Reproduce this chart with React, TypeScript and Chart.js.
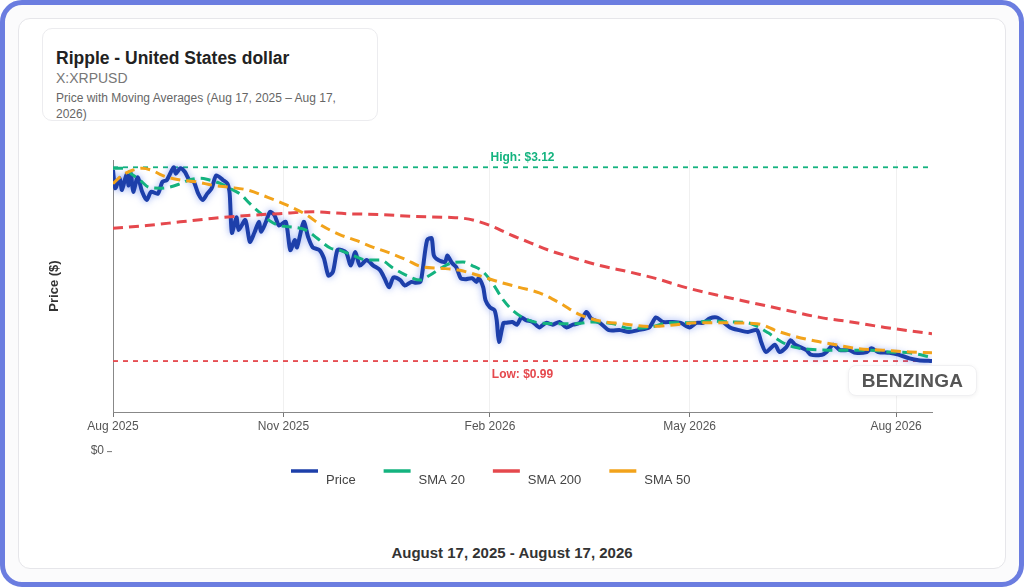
import { useEffect, useRef } from 'react';
import { Chart, registerables } from 'chart.js';

Chart.register(...registerables);

const FONT = '"Liberation Sans", Arial, Helvetica, sans-serif';

// x values are days since Aug 17, 2025
const tickDays = [0, 76, 168, 257, 349];
const tickLabels = ['Aug 2025', 'Nov 2025', 'Feb 2026', 'May 2026', 'Aug 2026'];

const priceDays = [
  0, 1, 3, 4, 6, 7, 8, 9, 11, 13,
  15, 17, 20, 22, 24, 27, 28, 30, 32, 34,
  36, 38, 40, 42, 44, 46, 49, 51, 52, 53,
  55, 56, 59, 61, 63, 65, 66, 68, 70, 72,
  74, 77, 79, 81, 82, 85, 87, 89, 92, 94,
  96, 98, 100, 102, 104, 106, 108, 110, 113, 116,
  119, 121, 123, 125, 128, 130, 133, 135, 137, 138,
  140, 142, 143, 145, 148, 149, 151, 153, 155, 157,
  160, 162, 163, 165, 166, 168, 170, 171, 172, 174,
  175, 178, 180, 182, 184, 187, 190, 193, 196, 199,
  202, 205, 208, 211, 213, 217, 221, 226, 230, 234,
  239, 242, 245, 249, 253, 257, 260, 263, 266, 269,
  271, 275, 279, 283, 287, 289, 291, 295, 297, 300,
  302, 304, 309, 311, 316, 318, 321, 324, 328, 331,
  336, 338, 341, 346, 350, 355, 359, 365,
];
const priceValues = [
  3.09, 2.89, 3.0, 2.87, 3.04, 2.92, 3.05, 2.85, 3.01, 2.85,
  2.76, 2.85, 2.83, 2.96, 2.98, 3.12, 3.05, 3.11, 3.07, 2.98,
  2.96, 2.83, 2.76, 2.83, 2.89, 3.03, 2.98, 2.94, 2.83, 2.4,
  2.57, 2.43, 2.54, 2.3, 2.4, 2.52, 2.41, 2.51, 2.63, 2.59,
  2.48, 2.52, 2.21, 2.32, 2.24, 2.52, 2.35, 2.24, 2.21, 2.12,
  1.93, 1.97, 2.21, 2.21, 2.18, 2.04, 2.19, 2.04, 2.1, 2.04,
  1.99, 1.9, 1.8, 1.91, 1.88, 1.82, 1.86, 1.85, 1.86, 1.99,
  2.32, 2.34, 2.15, 2.1, 2.08, 2.15, 2.07, 2.02, 1.9, 1.89,
  1.9, 1.86, 1.9, 1.8, 1.66, 1.58, 1.55, 1.44, 1.2, 1.41,
  1.41, 1.42, 1.39, 1.47, 1.44, 1.42, 1.36, 1.41, 1.39, 1.42,
  1.36, 1.39, 1.41, 1.53, 1.46, 1.41, 1.33, 1.33, 1.31, 1.33,
  1.36, 1.47, 1.42, 1.42, 1.41, 1.36, 1.41, 1.41, 1.46, 1.47,
  1.44, 1.36, 1.33, 1.31, 1.33, 1.19, 1.09, 1.17, 1.09, 1.14,
  1.22, 1.17, 1.11, 1.06, 1.06, 1.09, 1.17, 1.11, 1.11, 1.08,
  1.09, 1.13, 1.09, 1.08, 1.06, 1.02, 1.0, 0.99,
];

const sma20Days = [
  0, 5, 8, 12, 16, 21, 25, 30, 34, 39, 43, 48, 52, 57, 61, 65, 70, 74, 81, 86,
  91, 97, 101, 107, 113, 119, 125, 131, 137, 141, 146, 151, 156, 160, 165, 169, 174, 178, 184, 190,
  198, 206, 214, 223, 230, 239, 248, 257, 266, 275, 283, 288, 292, 298, 304, 310, 319, 328, 337, 346,
  355, 365,
];
const sma20Values = [
  3.11, 3.11, 3.05, 2.98, 2.9, 2.89, 2.9, 2.94, 2.98, 3.0, 2.98, 2.94, 2.89, 2.82, 2.72, 2.63, 2.53, 2.48, 2.46, 2.43,
  2.34, 2.23, 2.21, 2.15, 2.1, 2.1, 2.01, 1.93, 1.88, 1.93, 2.01, 2.07, 2.08, 2.04, 1.97, 1.85, 1.66, 1.55, 1.45, 1.41,
  1.4, 1.4, 1.42, 1.4, 1.35, 1.36, 1.41, 1.41, 1.43, 1.42, 1.41, 1.36, 1.3, 1.2, 1.14, 1.12, 1.11, 1.11, 1.11, 1.09,
  1.08, 1.03,
];

const sma200Days = [
  0, 15, 30, 45, 60, 74, 89, 104, 119, 134, 149, 156, 162, 168, 177, 186, 194, 203, 217, 230,
  243, 255, 270, 285, 300, 315, 329, 344, 365,
];
const sma200Values = [
  2.45, 2.48, 2.52, 2.56, 2.59, 2.61, 2.63, 2.61, 2.6, 2.58, 2.57, 2.56, 2.53, 2.48, 2.38, 2.29, 2.21, 2.14, 2.04, 1.97,
  1.89, 1.8, 1.71, 1.63, 1.55, 1.47, 1.42, 1.36, 1.29,
];

const sma50Days = [
  0, 4, 9, 13, 18, 22, 30, 37, 45, 52, 60, 69, 77, 86, 93, 101, 109, 116, 122, 131,
  137, 146, 154, 163, 172, 181, 190, 199, 208, 217, 227, 239, 251, 260, 270, 287, 296, 304, 313, 322,
  331, 343, 355, 365,
];
const sma50Values = [
  2.94, 3.03, 3.09, 3.11, 3.08, 3.03, 2.98, 2.96, 2.92, 2.9, 2.87, 2.79, 2.71, 2.6, 2.48, 2.38, 2.31, 2.24, 2.19, 2.1,
  2.03, 2.01, 1.99, 1.93, 1.86, 1.8, 1.74, 1.63, 1.5, 1.43, 1.4, 1.37, 1.39, 1.41, 1.41, 1.4, 1.32, 1.26, 1.21, 1.17,
  1.13, 1.11, 1.09, 1.08,
];

const HIGH = 3.12;
const LOW = 0.99;

const BLUE = '#1d3faa';
const GREEN = '#14b37f';
const RED = '#e5484d';
const ORANGE = '#f2a31b';

const toPoints = (days: number[], values: number[]) => days.map((d, i) => ({ x: d, y: values[i] }));

const overlay = {
  id: 'overlay',
  beforeDatasetsDraw(chart: any) {
    const { ctx, chartArea: a, scales } = chart;
    ctx.save();
    ctx.lineWidth = 1.8;
    ctx.setLineDash([5, 5]);
    [[HIGH, GREEN], [LOW, RED]].forEach(([v, c]) => {
      const py = scales.y.getPixelForValue(v as number);
      ctx.strokeStyle = c;
      ctx.beginPath();
      ctx.moveTo(a.left, py);
      ctx.lineTo(a.right, py);
      ctx.stroke();
    });
    ctx.restore();
  },
  beforeDatasetDraw(chart: any, args: any) {
    if (args.index !== 0) return;
    const ctx = chart.ctx;
    ctx.save();
    ctx.shadowColor = 'rgba(60,100,235,0.55)';
    ctx.shadowBlur = 7;
  },
  afterDatasetDraw(chart: any, args: any) {
    if (args.index === 0) chart.ctx.restore();
  },
  afterDraw(chart: any) {
    const { ctx, chartArea: a, scales } = chart;
    const mid = (a.left + a.right) / 2;
    ctx.save();
    ctx.font = `bold 12px ${FONT}`;
    ctx.textAlign = 'center';
    ctx.textBaseline = 'middle';
    ctx.fillStyle = GREEN;
    ctx.fillText(`High: $${HIGH.toFixed(2)}`, mid, scales.y.getPixelForValue(HIGH) - 10);
    ctx.fillStyle = RED;
    ctx.fillText(`Low: $${LOW.toFixed(2)}`, mid, scales.y.getPixelForValue(LOW) + 14);

    // stray zero tick of the price axis, below the date axis
    const zy = scales.y.getPixelForValue(0);
    ctx.font = `12px ${FONT}`;
    ctx.fillStyle = '#555';
    ctx.textAlign = 'right';
    ctx.fillText('$0', a.left - 9, zy);
    ctx.strokeStyle = '#777';
    ctx.lineWidth = 1;
    ctx.beginPath();
    ctx.moveTo(a.left - 6, zy + 0.5);
    ctx.lineTo(a.left - 1, zy + 0.5);
    ctx.stroke();

    // legend: swatch line with the label set a little lower
    let x = 267;
    ctx.font = `13px ${FONT}`;
    ctx.textAlign = 'left';
    ctx.fillStyle = '#444';
    chart.data.datasets.forEach((ds: any) => {
      ctx.strokeStyle = ds.borderColor;
      ctx.lineWidth = 3.5;
      ctx.beginPath();
      ctx.moveTo(x, 331);
      ctx.lineTo(x + 27, 331);
      ctx.stroke();
      ctx.fillText(ds.label, x + 35, 340);
      x += 35 + ctx.measureText(ds.label).width + 28;
    });
    ctx.restore();
  },
};

function PriceChart() {
  const canvasRef = useRef<HTMLCanvasElement>(null);
  const chartRef = useRef<Chart | null>(null);

  useEffect(() => {
    if (!canvasRef.current) return;
    if (chartRef.current) chartRef.current.destroy();
    Chart.defaults.font.family = FONT;

    const sma = { pointRadius: 0, borderWidth: 3, borderDash: [10, 6], cubicInterpolationMode: 'monotone' as const };

    chartRef.current = new Chart(canvasRef.current, {
      type: 'line',
      data: {
        datasets: [
          { label: 'Price', data: toPoints(priceDays, priceValues), borderColor: BLUE, borderWidth: 4, pointRadius: 0, tension: 0.25, order: 4 },
          { label: 'SMA 20', data: toPoints(sma20Days, sma20Values), borderColor: GREEN, order: 3, ...sma },
          { label: 'SMA 200', data: toPoints(sma200Days, sma200Values), borderColor: RED, order: 2, ...sma },
          { label: 'SMA 50', data: toPoints(sma50Days, sma50Values), borderColor: ORANGE, order: 1, ...sma },
        ],
      },
      options: {
        animation: false,
        responsive: true,
        maintainAspectRatio: false,
        layout: { padding: { left: 0, right: 68, top: 20, bottom: 0 } },
        plugins: { legend: { display: false }, tooltip: { enabled: false } },
        scales: {
          x: {
            type: 'linear',
            min: 0,
            max: 365,
            afterBuildTicks: (scale: any) => { scale.ticks = tickDays.map(v => ({ value: v })); },
            afterFit: (scale: any) => { scale.height = 88; },
            ticks: {
              autoSkip: false,
              maxRotation: 0,
              padding: 2,
              color: '#555',
              font: { size: 12 },
              callback: (v: any) => tickLabels[tickDays.indexOf(v)],
            },
            grid: { color: '#f0f0f0', tickColor: '#777', tickLength: 5 },
            border: { color: '#888' },
          },
          y: {
            min: 0.43,
            max: 3.2,
            afterFit: (scale: any) => { scale.width = 89; },
            ticks: { display: false },
            grid: { display: false },
            border: { color: '#888' },
            title: {
              display: true,
              text: 'Price ($)',
              color: '#333',
              font: { size: 13, weight: 'bold' },
              padding: { top: 23, bottom: 0 },
            },
          },
        },
      },
      plugins: [overlay],
    });

    return () => {
      if (chartRef.current) { chartRef.current.destroy(); chartRef.current = null; }
    };
  }, []);

  return (
    <div style={{ position: 'absolute', left: 24, top: 140, width: 976, height: 360 }}>
      <canvas ref={canvasRef} />
    </div>
  );
}

export default function App() {
  return (
    <div style={{ position: 'fixed', left: 0, top: 0, width: 1024, height: 587, background: '#fff', fontFamily: FONT, overflow: 'hidden' }}>
      <div style={{ position: 'absolute', left: 0, top: 0, width: 1024, height: 587, boxSizing: 'border-box', border: '5px solid #6b7de0', borderRadius: 22, background: '#fbfbfc' }} />
      <div style={{ position: 'absolute', left: 18, top: 18, width: 988, height: 551, boxSizing: 'border-box', border: '1px solid #e6e6ea', borderRadius: 12, background: '#fff' }} />

      <div style={{ position: 'absolute', left: 42, top: 28, width: 336, height: 93, boxSizing: 'border-box', border: '1px solid #ececef', borderRadius: 10, background: '#fff' }}>
        <div style={{ position: 'absolute', left: 13, top: 18, fontSize: 17.5, lineHeight: '22px', fontWeight: 'bold', color: '#222', whiteSpace: 'nowrap' }}>
          Ripple - United States dollar
        </div>
        <div style={{ position: 'absolute', left: 13, top: 40, fontSize: 14, lineHeight: '18px', color: '#777', whiteSpace: 'nowrap' }}>
          X:XRPUSD
        </div>
        <div style={{ position: 'absolute', left: 13, top: 61, width: 300, fontSize: 12, lineHeight: '16px', color: '#666' }}>
          Price with Moving Averages (Aug 17, 2025 – Aug 17, 2026)
        </div>
      </div>

      <PriceChart />

      <div style={{ position: 'absolute', left: 848, top: 365, width: 129, height: 31, boxSizing: 'border-box', background: '#fff', border: '1px solid #f0f0f2', borderRadius: 8, boxShadow: '0 1px 4px rgba(0,0,0,0.06)', display: 'flex', alignItems: 'center', justifyContent: 'center', fontSize: 19, fontWeight: 'bold', color: '#555', letterSpacing: 0.3 }}>
        BENZINGA
      </div>

      <div style={{ position: 'absolute', left: 0, top: 544, width: 1024, textAlign: 'center', fontSize: 15, lineHeight: '18px', fontWeight: 'bold', color: '#333' }}>
        August 17, 2025 - August 17, 2026
      </div>
    </div>
  );
}
